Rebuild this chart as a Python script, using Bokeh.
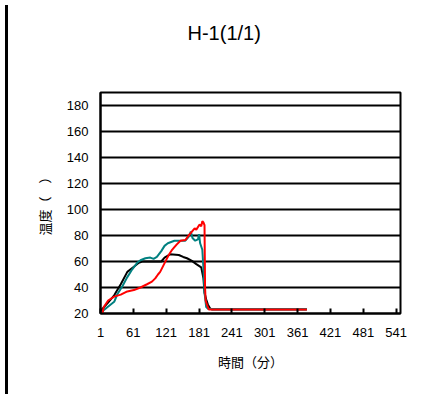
from bokeh.plotting import figure
from bokeh.models import Range1d, FixedTicker, Div
from bokeh.layouts import row
from bokeh.embed import file_html
from bokeh.resources import INLINE

# ---- data ----
title_text = "H-1(1/1)"
x_label_text = "時間（分）"
y_label_text = "温度（　）"

x_ticks = [1, 61, 121, 181, 241, 301, 361, 421, 481, 541]
y_ticks = [20, 40, 60, 80, 100, 120, 140, 160, 180]

black_min = [1, 14, 26, 38, 50, 62, 71, 77, 112, 118, 128, 144, 152, 159, 168, 176, 185, 189, 191, 194, 197, 201, 205, 378]
black_val = [22, 28, 34, 42.5, 52, 56, 59, 60, 60, 63, 65.5, 65, 63.5, 62.5, 60.5, 58, 55.5, 47, 36, 31, 27, 24, 23, 23]

teal_min = [1, 8, 14, 26, 32, 41, 50, 59, 68, 74, 83, 92, 98, 104, 112, 118, 124, 136, 156, 162, 166, 169, 174, 179, 181, 183, 187, 189, 191, 194, 198, 378]
teal_val = [20, 23, 25, 29, 35, 41, 48, 54, 59, 61, 62.5, 63, 62, 63.5, 68, 72, 74, 76, 76, 79, 83, 78, 76, 77, 81, 74, 69, 55, 36, 25, 23.5, 23.5]

red_min = [4, 7, 15, 26, 38, 50, 62, 74, 86, 95, 101, 106, 110, 116, 122, 127, 131, 136, 140, 147, 156, 162, 168, 173, 176, 182, 185, 187, 189, 191, 192, 193, 196, 199, 378]
red_val = [19, 25, 30, 33, 34.5, 37, 38, 40, 42.5, 44.5, 47, 50, 52, 57, 62, 66, 68.5, 71, 73, 76, 76.5, 80, 83, 85.5, 84.5, 88.5, 87, 91, 90, 88, 40, 30, 26, 23, 23]

X_MIN, X_MAX = 1, 549
Y_MIN, Y_MAX = 20, 190

# ---- layout (pixels) ----
BAR_W = 3
W, H = 410, 389
MB_LEFT, MB_TOP = 87, 92
FW, FH = 300, 221

p = figure(width=W, height=H, output_backend="svg", toolbar_location=None,
           x_range=Range1d(X_MIN, X_MAX), y_range=Range1d(Y_MIN, Y_MAX),
           min_border_left=MB_LEFT, min_border_top=MB_TOP,
           min_border_right=W - MB_LEFT - FW,
           min_border_bottom=H - MB_TOP - FH,
           background_fill_color="white", border_fill_color="white",
           title=title_text + "\n\n")

p.title.text_font = "Liberation Sans"
p.title.text_font_size = "20px"
p.title.text_font_style = "normal"
p.title.text_color = "black"
p.title.align = "left"
p.title.offset = 223 - 37 - 99
p.title.standoff = 10

p.outline_line_color = "black"
p.outline_line_width = 2

# axes
p.xaxis.ticker = FixedTicker(ticks=x_ticks)
p.yaxis.ticker = FixedTicker(ticks=y_ticks)
for ax in (p.xaxis, p.yaxis):
    ax.axis_line_color = "black"
    ax.axis_line_width = 2
    ax.minor_tick_line_color = None
    ax.major_label_text_font = "Liberation Sans"
    ax.major_label_text_font_size = "13px"
    ax.major_label_text_color = "black"
    ax.major_label_standoff = 12
    ax.axis_label_text_font = "Noto Sans CJK JP"
    ax.axis_label_text_font_size = "13px"
    ax.axis_label_text_font_style = "normal"
    ax.axis_label_text_color = "black"
p.xaxis.major_label_standoff = 14
p.xaxis.axis_label = x_label_text
p.yaxis.axis_label = y_label_text
p.xaxis.axis_label_standoff = 12
p.yaxis.axis_label_standoff = 10
p.xaxis.major_tick_in = 5
p.xaxis.major_tick_out = 0
p.xaxis.major_tick_line_width = 2
p.xaxis.major_tick_line_color = "black"
p.yaxis.major_tick_line_color = None
p.yaxis.major_tick_in = 0
p.yaxis.major_tick_out = 0

p.xgrid.grid_line_color = None
p.ygrid.grid_line_color = "black"
p.ygrid.grid_line_width = 2

# data lines
p.line(black_min, black_val, line_color="black", line_width=2)
p.line(teal_min, teal_val, line_color="#008080", line_width=2)
p.line(red_min, red_val, line_color="#FF0000", line_width=2)

bar = Div(width=BAR_W, height=H, styles={"background-color": "black"})
layout = row(bar, p, spacing=0)

open("out.html", "w").write(file_html(layout, INLINE))
